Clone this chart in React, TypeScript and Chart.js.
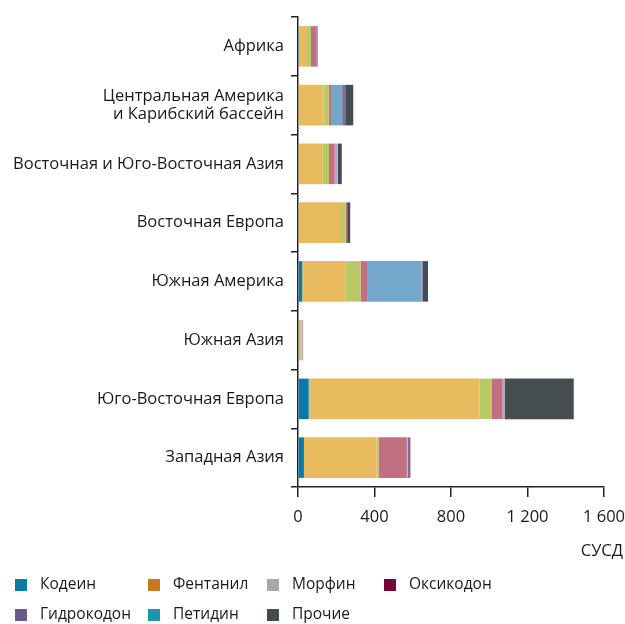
import React, { useEffect, useRef } from "react";
import { Chart, registerables } from "chart.js";

Chart.register(...registerables);

const categories: (string | string[])[] = [
  "Африка",
  ["Центральная Америка", "и Карибский бассейн"],
  "Восточная и Юго-Восточная Азия",
  "Восточная Европа",
  "Южная Америка",
  "Южная Азия",
  "Юго-Восточная Европа",
  "Западная Азия",
];

// bar segments (values in СУСД), stacking order = left-to-right
const seriesNames = ["Кодеин", "Фентанил", "Морфин", "Оксикодон", "Гидрокодон", "Петидин", "Другие", "Прочие"];
const seriesColors = ["#0a79aa", "#e8bb5f", "#b8c965", "#c17082", "#b5a9cc", "#75a7ca", "#856a97", "#464d51"];
const codeine = [5, 0, 0, 0, 22, 2, 56, 31];
const seg2 = [42, 134, 127, 225, 225, 18, 894, 380];
const seg3 = [21, 26, 35, 24, 80, 0, 64, 12];
const seg4 = [28, 17, 30, 8, 38, 0, 56, 146];
const seg5 = [0, 0, 16, 0, 0, 7, 10, 5];
const seg6 = [0, 54, 0, 0, 282, 0, 0, 0];
const seg7 = [7, 16, 0, 0, 5, 0, 0, 14];
const others = [0, 42, 21, 16, 28, 0, 362, 0];
const seriesValues = [codeine, seg2, seg3, seg4, seg5, seg6, seg7, others];

const xTicks = [0, 400, 800, 1200, 1600];
const xTickLabels = ["0", "400", "800", "1 200", "1 600"];
const xAxisTitle = "СУСД";

const legendNames = ["Кодеин", "Фентанил", "Морфин", "Оксикодон", "Гидрокодон", "Петидин", "Прочие"];
const legendColors = ["#0a7aa8", "#c8781f", "#a6a8ab", "#7b0038", "#6a5a8c", "#2392ab", "#454c50"];

const FONT = "'Open Sans', 'Noto Sans', sans-serif";

export default function App() {
  const ref = useRef<HTMLCanvasElement | null>(null);

  useEffect(() => {
    if (!ref.current) return;
    const titlePlugin = {
      id: "unitTitle",
      afterDraw(chart: any) {
        const ctx = chart.ctx;
        ctx.save();
        ctx.font = `16.5px ${FONT}`;
        ctx.fillStyle = "#1a1a1a";
        ctx.textAlign = "right";
        ctx.textBaseline = "middle";
        ctx.fillText(xAxisTitle, 623, 551);
        // legend
        const cols = [15, 148, 267, 384];
        const rows = [585, 615];
        ctx.textAlign = "left";
        ctx.font = `15.5px ${FONT}`;
        legendNames.forEach((n, i) => {
          const c = i < 4 ? i : i - 4;
          const r = i < 4 ? 0 : 1;
          ctx.fillStyle = legendColors[i];
          ctx.fillRect(cols[c], rows[r] - 6, 12, 12);
          ctx.fillStyle = "#1a1a1a";
          ctx.fillText(n, cols[c] + 25, rows[r]);
        });
        ctx.restore();
      },
    };
    const chart = new Chart(ref.current, {
      type: "bar",
      data: {
        labels: categories,
        datasets: seriesValues.map((v, i) => ({
          label: seriesNames[i],
          data: v,
          backgroundColor: seriesColors[i],
          borderWidth: 0,
          barPercentage: 0.69,
          categoryPercentage: 1,
        })),
      },
      options: {
        indexAxis: "y",
        animation: false,
        responsive: false,
        devicePixelRatio: 1,
        layout: { padding: { top: 17, left: 0, right: 21, bottom: 97 } },
        plugins: {
          legend: { display: false },
          tooltip: { enabled: false },
        },
        scales: {
          x: {
            stacked: true,
            min: 0,
            max: 1600,
            afterBuildTicks: (s: any) => {
              s.ticks = xTicks.map((v) => ({ value: v }));
            },
            afterFit: (s: any) => {
              s.height = 40;
              s.paddingLeft = 0;
              s.paddingRight = 0;
            },
            ticks: {
              color: "#1a1a1a",
              font: { family: FONT, size: 16.5 },
              padding: 10,
              maxRotation: 0,
              callback: (v: any) => {
                const i = xTicks.indexOf(Number(v));
                return i >= 0 ? xTickLabels[i] : "";
              },
            },
            grid: {
              drawOnChartArea: false,
              drawTicks: true,
              tickLength: 10,
              color: "#222",
              lineWidth: 1.5,
            },
            border: { color: "#222", width: 1.5 },
          },
          y: {
            stacked: true,
            afterFit: (s: any) => {
              s.width = 298;
            },
            ticks: {
              color: "#1a1a1a",
              font: { family: FONT, size: 16.5, lineHeight: 1.1 },
              padding: 7,
            },
            grid: {
              offset: true,
              drawOnChartArea: false,
              drawTicks: true,
              tickLength: 7,
              color: "#222",
              lineWidth: 1.5,
            },
            border: { color: "#222", width: 1.5 },
          },
        },
      },
      plugins: [titlePlugin],
    });
    return () => chart.destroy();
  }, []);

  return (
    <div style={{ position: "fixed", left: 0, top: 0, width: 625, height: 624, background: "#fff" }}>
      <canvas ref={ref} width={625} height={624} />
    </div>
  );
}
